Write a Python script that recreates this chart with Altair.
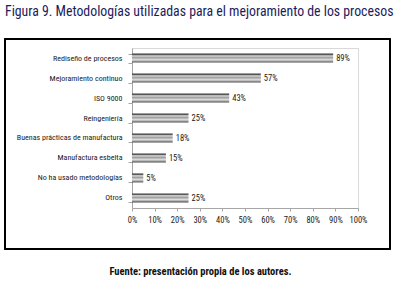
import altair as alt
import pandas as pd

categories = [
    "Rediseño de procesos",
    "Mejoramiento continuo",
    "ISO 9000",
    "Reingeniería",
    "Buenas prácticas de manufactura",
    "Manufactura esbelta",
    "No ha usado metodologías",
    "Otros",
]
values = [89, 57, 43, 25, 18, 15, 5, 25]
x_ticks = [0, 10, 20, 30, 40, 50, 60, 70, 80, 90, 100]

title_text = "Figura 9. Metodologías utilizadas para el mejoramiento de los procesos"
source_text = "Fuente: presentación propia de los autores."

FONT = "Noto Sans ExtraCondensed, Noto Sans Condensed, Roboto Condensed, DejaVu Sans Condensed, sans-serif"

df = pd.DataFrame({"cat": categories, "val": values})
df["lbl"] = [f"{v}%" for v in values]

grad = alt.Gradient(
    gradient="linear",
    x1=0, y1=0, x2=0, y2=1,
    stops=[
        alt.GradientStop(color="#3c3c3c", offset=0.0),
        alt.GradientStop(color="#5a5a5a", offset=0.12),
        alt.GradientStop(color="#d8d8d8", offset=0.25),
        alt.GradientStop(color="#a0a0a0", offset=0.45),
        alt.GradientStop(color="#e2e2e2", offset=0.7),
        alt.GradientStop(color="#8a8a8a", offset=0.88),
        alt.GradientStop(color="#4a4a4a", offset=1.0),
    ],
)

y_enc = alt.Y(
    "cat:N",
    sort=categories,
    scale=alt.Scale(paddingInner=0.55, paddingOuter=0.28),
    axis=alt.Axis(
        title=None,
        tickBand="extent",
        tickSize=4,
        tickColor="#a6a6a6",
        domainColor="#a6a6a6",
        labelFont=FONT,
        labelFontSize=8,
        labelColor="#1a1a1a",
        labelPadding=6,
        labelLimit=200,
    ),
)

x_enc = alt.X(
    "val:Q",
    scale=alt.Scale(domain=[0, 100], nice=False),
    axis=alt.Axis(
        values=x_ticks,
        labelExpr="datum.value + '%'",
        labelOverlap=False,
        labelFlush=False,
        grid=False,
        tickSize=3,
        tickColor="#a6a6a6",
        domainColor="#a6a6a6",
        labelFont=FONT,
        labelFontSize=8.5,
        labelColor="#1a1a1a",
        labelPadding=4,
        title=source_text,
        titleFont=FONT,
        titleFontSize=10.5,
        titleFontWeight="bold",
        titleColor="#111111",
        titleX=68,
        titleY=66,
        titleAlign="center",
        titleBaseline="alphabetic",
    ),
)

box = alt.Chart(df).mark_rect(fill=None, stroke="#000000", strokeWidth=1.2).encode(
    x=alt.value(-127), x2=alt.value(258), y=alt.value(-9), y2=alt.value(201)
)

bars = alt.Chart(df).mark_bar(color=grad).encode(x=x_enc, y=y_enc)

labels = alt.Chart(df).mark_text(
    align="left", dx=3, font=FONT, fontSize=8.5, color="#1a1a1a"
).encode(x=x_enc, y=y_enc, text="lbl:N")

chart = alt.layer(box, bars, labels).properties(
    width=226,
    height=160,
    autosize="none",
    padding={"left": 132, "top": 48, "right": 38, "bottom": 78},
    title=alt.TitleParams(
        text=title_text,
        anchor="start",
        frame="group",
        dx=-127,
        font=FONT,
        fontSize=13.8,
        fontWeight="normal",
        color="#1c1c5c",
        offset=20,
    ),
).configure_view(stroke="#d9d9d9", strokeWidth=1)

chart.save("out.html", embed_options={"renderer": "svg", "actions": False})
